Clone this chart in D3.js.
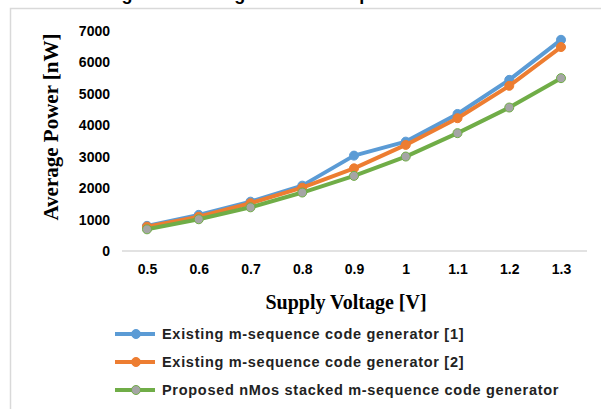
<!DOCTYPE html>
<html>
<head>
<meta charset="utf-8">
<script src="https://cdn.jsdelivr.net/npm/d3@7"></script>
<style>
  body { margin: 0; background: #fff; }
  svg { display: block; }
</style>
</head>
<body>
<div id="chart"></div>
<script>
// data
const voltages = ["0.5", "0.6", "0.7", "0.8", "0.9", "1", "1.1", "1.2", "1.3"];
const existing1 = [800, 1150, 1570, 2080, 3035, 3480, 4360, 5445, 6720];
const existing2 = [775, 1090, 1520, 2015, 2630, 3375, 4225, 5255, 6490];
const proposed = [690, 1010, 1390, 1860, 2390, 3005, 3750, 4565, 5500];
const yTicks = [0, 1000, 2000, 3000, 4000, 5000, 6000, 7000];
const seriesNames = [
  "Existing m-sequence code generator [1]",
  "Existing m-sequence code generator [2]",
  "Proposed nMos stacked m-sequence code generator"
];

const width = 601, height = 409;
const series = [
  { name: seriesNames[0], values: existing1, color: "#5b9bd5", dot: "#5b9bd5" },
  { name: seriesNames[1], values: existing2, color: "#ed7d31", dot: "#ed7d31" },
  { name: seriesNames[2], values: proposed, color: "#70ad47", dot: "#a5a5a5" }
];

const svg = d3.select("#chart").append("svg")
  .attr("width", width)
  .attr("height", height);

// caption of the page above, cut by the top edge as in the scan
svg.append("text")
  .attr("x", 265).attr("y", 0)
  .attr("text-anchor", "middle")
  .attr("font-family", "Liberation Sans, Arial, sans-serif")
  .attr("font-weight", "bold")
  .attr("font-size", 18)
  .text("Figure 5. Average Power Comparison");

// chart frame
svg.append("rect")
  .attr("x", 10.5).attr("y", 8.5)
  .attr("width", 620).attr("height", 420)
  .attr("fill", "none")
  .attr("stroke", "#d9d9d9")
  .attr("stroke-width", 1.5);

const x = d3.scalePoint()
  .domain(voltages)
  .range([147, 561]);

const y = d3.scaleLinear()
  .domain([0, 7000])
  .range([251, 31]);

// baseline
svg.append("line")
  .attr("x1", 122).attr("x2", 587)
  .attr("y1", y(0)).attr("y2", y(0))
  .attr("stroke", "#d9d9d9")
  .attr("stroke-width", 1.5);

// y tick labels
svg.append("g")
  .attr("transform", "translate(110,0)")
  .call(d3.axisLeft(y).tickValues(yTicks).tickFormat(d3.format("d")).tickSize(0).tickPadding(0))
  .call(g => g.select(".domain").remove())
  .call(g => g.selectAll("text")
    .attr("font-family", "Liberation Sans, Arial, sans-serif")
    .attr("font-weight", "bold")
    .attr("font-size", 14)
    .attr("fill", "#000"));

// x tick labels
svg.append("g")
  .attr("transform", "translate(0,264)")
  .call(d3.axisBottom(x).tickSize(0).tickPadding(0))
  .call(g => g.select(".domain").remove())
  .call(g => g.selectAll("text")
    .attr("font-family", "Liberation Sans, Arial, sans-serif")
    .attr("font-weight", "bold")
    .attr("font-size", 14)
    .attr("fill", "#000"));

// axis titles
svg.append("text")
  .attr("x", 346).attr("y", 309)
  .attr("text-anchor", "middle")
  .attr("font-family", "Liberation Serif, Times New Roman, serif")
  .attr("font-weight", "bold")
  .attr("font-size", 20)
  .text("Supply Voltage [V]");

svg.append("text")
  .attr("transform", "translate(58,127) rotate(-90)")
  .attr("text-anchor", "middle")
  .attr("font-family", "Liberation Serif, Times New Roman, serif")
  .attr("font-weight", "bold")
  .attr("font-size", 21)
  .text("Average Power [nW]");

const line = d3.line()
  .x((d, i) => x(voltages[i]))
  .y(d => y(d));

series.forEach(s => {
  svg.append("path")
    .datum(s.values)
    .attr("d", line)
    .attr("fill", "none")
    .attr("stroke", s.color)
    .attr("stroke-width", 4)
    .attr("stroke-linejoin", "round");
  svg.append("g")
    .selectAll("circle")
    .data(s.values)
    .join("circle")
      .attr("cx", (d, i) => x(voltages[i]))
      .attr("cy", d => y(d))
      .attr("r", 4.5)
      .attr("fill", s.dot)
      .attr("stroke", s.color)
      .attr("stroke-width", 1);
});

// legend
const legend = svg.append("g");
series.forEach((s, i) => {
  const ly = 334 + i * 28;
  legend.append("line")
    .attr("x1", 115).attr("x2", 155)
    .attr("y1", ly).attr("y2", ly)
    .attr("stroke", s.color)
    .attr("stroke-width", 4);
  legend.append("circle")
    .attr("cx", 136).attr("cy", ly)
    .attr("r", 4.5)
    .attr("fill", s.dot)
    .attr("stroke", s.color);
  legend.append("text")
    .attr("x", 162).attr("y", ly + 5)
    .attr("font-family", "Liberation Sans, Arial, sans-serif")
    .attr("font-weight", "bold")
    .attr("font-size", 14.5)
    .attr("letter-spacing", 0.7)
    .attr("fill", "#222")
    .text(s.name);
});
</script>
</body>
</html>
